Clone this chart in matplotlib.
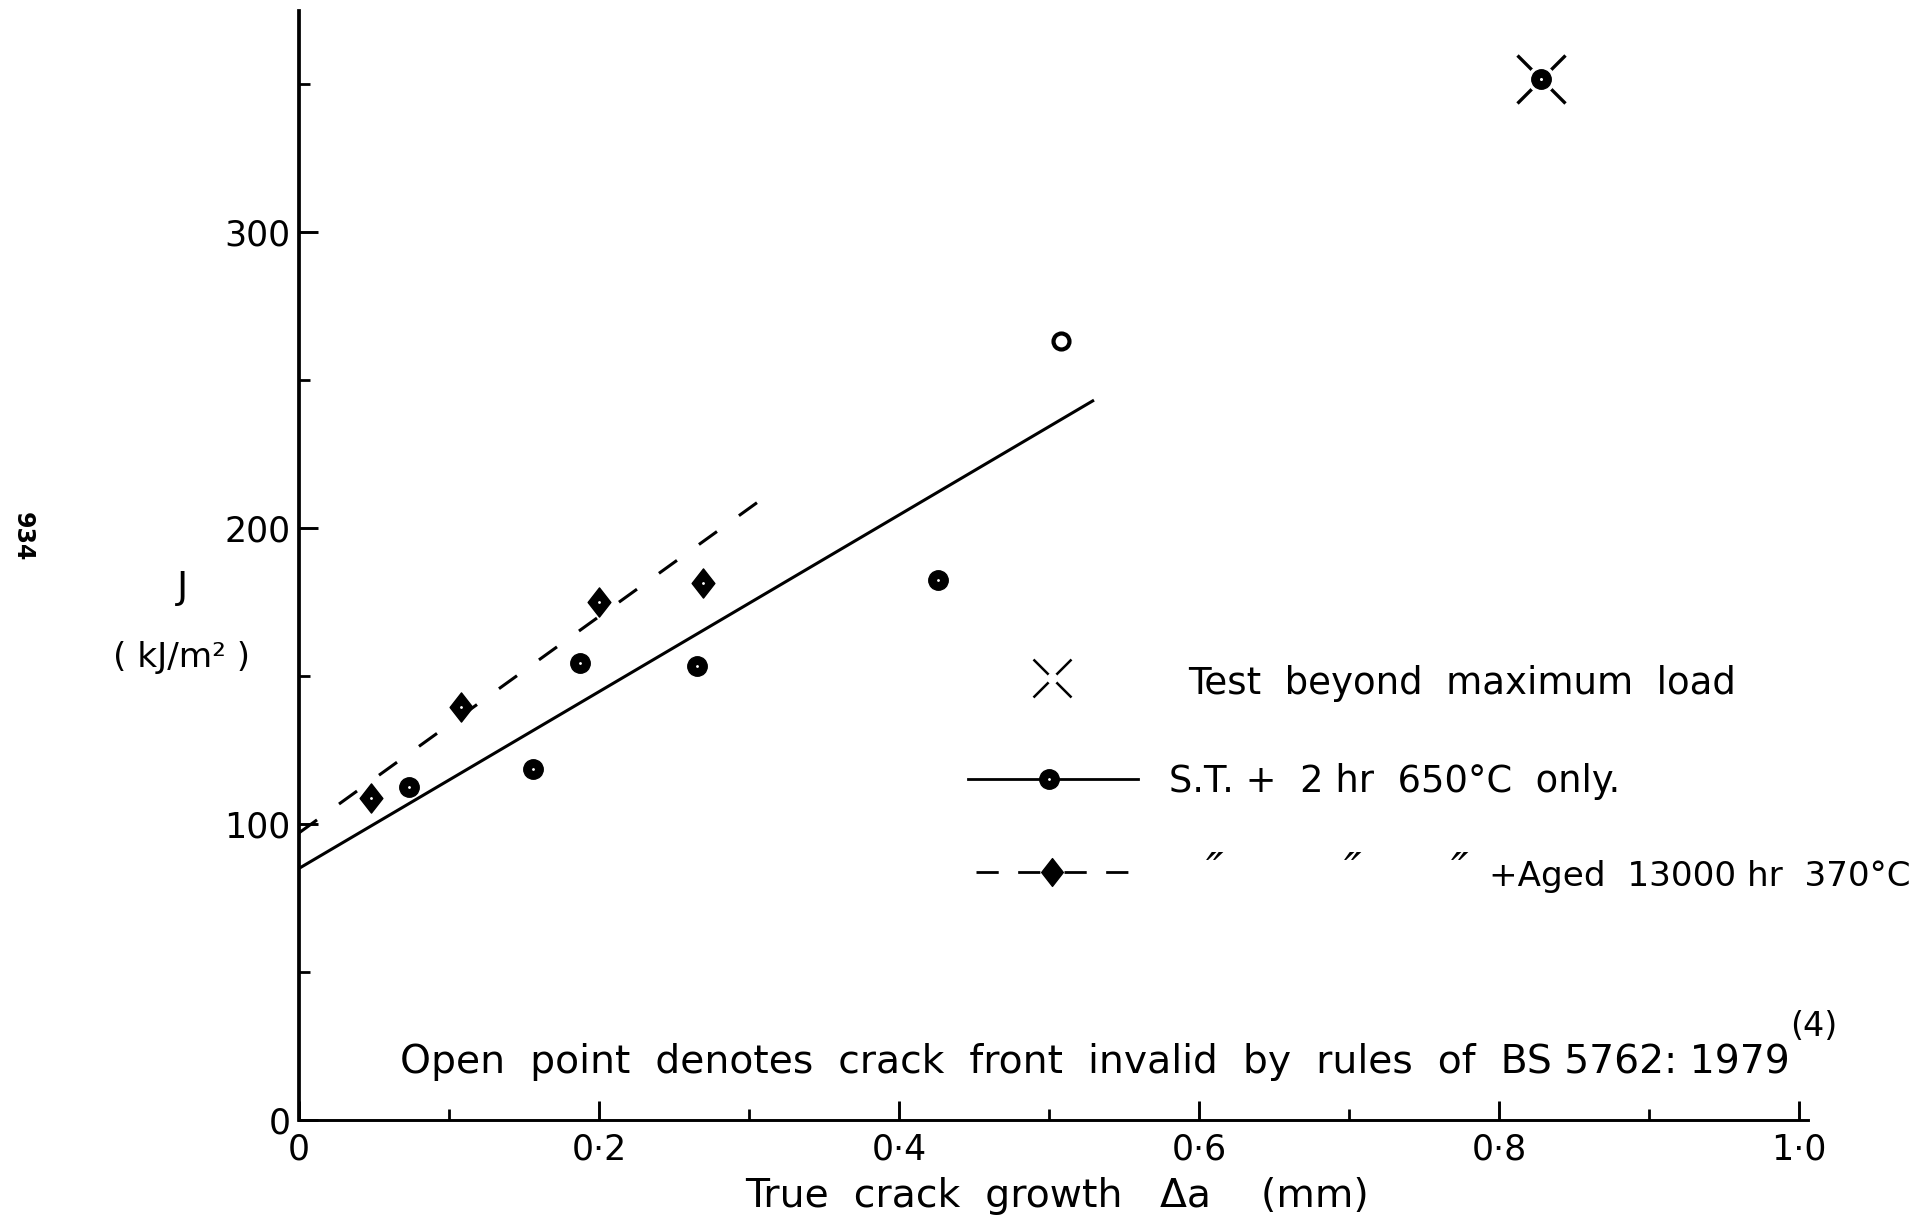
import matplotlib
matplotlib.use('Agg')
import matplotlib.pyplot as plt
from matplotlib.ticker import MultipleLocator, FixedLocator
from matplotlib.path import Path

plt.rcParams['font.family'] = ['DejaVu Sans']
plt.rcParams['lines.scale_dashes'] = False

# ---------------- data ----------------
st_x = [0.073, 0.156, 0.187, 0.265, 0.426]          # S.T. + 2 hr 650C, filled circles
st_y = [112.6, 118.7, 154.4, 153.3, 182.6]
open_x = [0.508]                                   # open point (invalid crack front)
open_y = [263.3]
maxload_x = [0.828]                                # test beyond maximum load
maxload_y = [351.6]
aged_x = [0.048, 0.108, 0.200, 0.269]              # + aged 13000 hr 370C, diamonds
aged_y = [108.9, 139.6, 174.9, 181.3]
st_fit_x = [0.0, 0.530]
st_fit_y = [85.0, 243.2]
aged_fit_x = [0.0, 0.312]
aged_fit_y = [97.0, 211.0]

xticks = [0.0, 0.2, 0.4, 0.6, 0.8, 1.0]
xticklabels = ['0', '0·2', '0·4', '0·6', '0·8', '1·0']
yticks = [0, 100, 200, 300]
yticklabels = ['0', '100', '200', '300']

# ---------------- figure / axes geometry ----------------
W, H, DPI = 1929, 1218, 100
X0, Y0, SX, SY = 299.0, 1120.0, 1500.0, 2.96   # pixel origin & scale
XMAX, YMAX = 1.006, 374.5

fig = plt.figure(figsize=(W / DPI, H / DPI), dpi=DPI)
ax = fig.add_axes([X0 / W, 1 - Y0 / H, XMAX * SX / W, YMAX * SY / H])
ax.set_xlim(0, XMAX)
ax.set_ylim(0, YMAX)

for s in ['top', 'right']:
    ax.spines[s].set_visible(False)
ax.spines['left'].set_linewidth(2.7)
ax.spines['bottom'].set_linewidth(2.1)

ax.xaxis.set_major_locator(FixedLocator(xticks))
ax.set_xticklabels(xticklabels)
ax.xaxis.set_minor_locator(MultipleLocator(0.1))
ax.yaxis.set_major_locator(FixedLocator(yticks))
ax.set_yticklabels(yticklabels)
ax.yaxis.set_minor_locator(MultipleLocator(50))
ax.tick_params(which='major', direction='in', length=14, width=2.1, labelsize=25)
ax.tick_params(which='minor', direction='in', length=8, width=2.0)
ax.tick_params(axis='x', which='major', pad=9)
ax.tick_params(axis='y', which='major', pad=6)

diamond = Path([(0, 1), (0.78, 0), (0, -1), (-0.78, 0), (0, 1)],
               [Path.MOVETO, Path.LINETO, Path.LINETO, Path.LINETO, Path.CLOSEPOLY])

def px2d(px, py):
    return (px - X0) / SX, (Y0 - py) / SY

# fit lines
ax.plot(st_fit_x, st_fit_y, color='black', lw=2.2, solid_capstyle='butt', clip_on=False)
ax.plot(aged_fit_x, aged_fit_y, color='black', lw=2.2, dashes=(16, 19.5),
        dash_capstyle='butt', clip_on=False)

# points
ax.plot(st_x, st_y, 'o', ms=14, color='black', mec='black', zorder=5)
ax.plot(st_x, st_y, 'o', ms=1.0, color='white', mec='white', zorder=6)
ax.plot(aged_x, aged_y, marker=diamond, ls='none', ms=21, color='black', mec='black', zorder=5)
ax.plot(aged_x, aged_y, 'o', ms=1.0, color='white', mec='white', zorder=6)
ax.plot(open_x, open_y, 'o', ms=11.5, mfc='white', mec='black', mew=3.0, zorder=5)
ax.plot(maxload_x, maxload_y, 'x', ms=35, mew=2.4, color='black', zorder=4, clip_on=False)
ax.plot(maxload_x, maxload_y, 'o', ms=19, color='white', mec='white', zorder=5, clip_on=False)
ax.plot(maxload_x, maxload_y, 'o', ms=14, color='black', mec='black', zorder=6, clip_on=False)
ax.plot(maxload_x, maxload_y, 'o', ms=1.2, color='white', mec='white', zorder=7, clip_on=False)

# ---------------- legend (drawn by hand) ----------------
lx, ly = px2d(1052, 678)
ax.plot([lx], [ly], 'x', ms=27, mew=1.8, color='black', clip_on=False)
ax.plot([lx], [ly], 'o', ms=7, color='white', mec='white', clip_on=False)

a, y2 = px2d(968, 779)
b, _ = px2d(1138, 779)
c, _ = px2d(1049, 779)
ax.plot([a, b], [y2, y2], color='black', lw=2.0, clip_on=False)
ax.plot([c], [y2], 'o', ms=14, color='black', clip_on=False)
ax.plot([c], [y2], 'o', ms=1.0, color='white', mec='white', clip_on=False)

a, y3 = px2d(976, 872)
a2, _ = px2d(1040, 872)
b1, _ = px2d(1064, 872)
b, _ = px2d(1132, 872)
c, _ = px2d(1052, 872)
ax.plot([a, a2], [y3, y3], color='black', lw=2.0, dashes=(16, 14), dash_capstyle='butt', clip_on=False)
ax.plot([b1, b], [y3, y3], color='black', lw=2.0, dashes=(16, 14), dash_capstyle='butt', clip_on=False)
ax.plot([c], [y3], marker=diamond, ls='none', ms=20, color='black', clip_on=False)

# ---------------- texts ----------------
renderer = fig.canvas.get_renderer()

def fit_text(px, py, s, width_px, ha='left', va='baseline', **kw):
    t = fig.text(px / W, 1 - py / H, s, ha=ha, va=va, fontsize=20, **kw)
    w = t.get_window_extent(renderer).width
    t.set_fontsize(20 * width_px / w)
    return t

fit_text(1188, 694, 'Test  beyond  maximum  load', 548)
fit_text(1169, 792, 'S.T. +  2 hr  650°C  only.', 452)
for qx in [1215, 1353, 1460]:
    fig.text(qx / W, 1 - 886 / H, '\u2033', ha='center', va='baseline', fontsize=34,
             style='italic')
fit_text(1489, 886, '+Aged  13000 hr  370°C', 422)
fit_text(400, 1073, 'Open  point  denotes  crack  front  invalid  by  rules  of  BS 5762: 1979', 1387)
fig.text(1814 / W, 1 - 1027 / H, '(4)', ha='center', va='center', fontsize=24)
fit_text(745, 1207, 'True  crack  growth   Δa    (mm)', 623)
fig.text(182 / W, 1 - 588 / H, 'J', ha='center', va='center', fontsize=27)
fit_text(182, 658, '( kJ/m² )', 137, ha='center', va='center')
fig.text(23 / W, 1 - 537 / H, '934', ha='center', va='center', fontsize=17,
         rotation=-90, fontweight='bold')

fig.savefig('out.png', dpi=DPI)
